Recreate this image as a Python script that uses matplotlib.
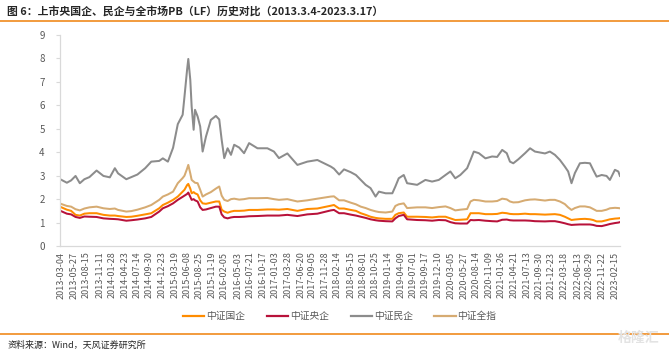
import pandas as pd
import matplotlib
matplotlib.use("Agg")
import matplotlib.pyplot as plt
from matplotlib.lines import Line2D

plt.rcParams['font.family'] = ['Noto Sans CJK SC', 'DejaVu Sans']

# values
dates = [
    "2013-03-04", "2013-04-08", "2013-05-06", "2013-06-04", "2013-07-02", "2013-08-01", "2013-09-03", "2013-10-20", "2013-12-04", "2014-01-15",
    "2014-02-17", "2014-03-10", "2014-05-03", "2014-06-05", "2014-07-15", "2014-09-04", "2014-10-14", "2014-12-05", "2014-12-29", "2015-01-31",
    "2015-03-06", "2015-04-06", "2015-05-08", "2015-05-20", "2015-06-06", "2015-06-14", "2015-06-27", "2015-07-06", "2015-07-19", "2015-07-28",
    "2015-08-14", "2015-08-31", "2015-09-16", "2015-10-08", "2015-11-09", "2015-12-12", "2016-01-03", "2016-01-19", "2016-02-05", "2016-02-27",
    "2016-03-20", "2016-04-10", "2016-05-13", "2016-06-14", "2016-07-17", "2016-09-10", "2016-11-14", "2016-12-27", "2017-01-29", "2017-03-25",
    "2017-05-30", "2017-08-03", "2017-10-08", "2018-01-04", "2018-01-25", "2018-02-28", "2018-04-01", "2018-05-15", "2018-06-18", "2018-07-20",
    "2018-08-21", "2018-09-22", "2018-10-25", "2018-11-16", "2018-12-30", "2019-02-12", "2019-03-04", "2019-03-26", "2019-04-28", "2019-05-20",
    "2019-07-25", "2019-09-17", "2019-10-31", "2019-12-14", "2020-01-27", "2020-02-28", "2020-03-31", "2020-05-03", "2020-06-17", "2020-07-09",
    "2020-07-31", "2020-09-02", "2020-10-15", "2020-11-28", "2020-12-31", "2021-02-02", "2021-03-04", "2021-03-25", "2021-04-16", "2021-05-19",
    "2021-07-02", "2021-08-04", "2021-09-05", "2021-11-10", "2021-12-12", "2022-01-14", "2022-02-16", "2022-03-20", "2022-04-11", "2022-05-03",
    "2022-05-25", "2022-06-27", "2022-07-30", "2022-09-01", "2022-09-22", "2022-10-15", "2022-11-17", "2022-12-19", "2023-01-10", "2023-02-12",
    "2023-03-06", "2023-03-17",
]

min_qi = [  # 中证民企
    2.82, 2.70, 2.80, 2.99, 2.68, 2.85, 2.94, 3.22, 2.99, 2.93,
    3.32, 3.10, 2.85, 2.94, 3.05, 3.32, 3.60, 3.63, 3.74, 3.60,
    4.19, 5.20, 5.60, 6.38, 7.52, 7.98, 7.09, 5.95, 4.96, 5.81,
    5.53, 5.10, 4.03, 4.67, 5.38, 5.55, 5.40, 4.53, 3.75, 4.17,
    3.89, 4.32, 4.20, 3.96, 4.39, 4.17, 4.17, 4.03, 3.75, 3.95,
    3.46, 3.60, 3.67, 3.39, 3.30, 3.05, 3.27, 3.15, 3.03, 2.82,
    2.61, 2.47, 2.11, 2.32, 2.25, 2.25, 2.54, 2.89, 3.03, 2.68,
    2.61, 2.82, 2.75, 2.82, 3.03, 3.18, 2.89, 3.03, 3.32, 3.67,
    4.03, 3.96, 3.74, 3.82, 3.80, 4.10, 3.96, 3.60, 3.53, 3.70,
    3.96, 4.17, 4.03, 3.95, 4.03, 3.89, 3.67, 3.39, 3.18, 2.68,
    3.11, 3.53, 3.55, 3.53, 3.25, 2.96, 3.03, 2.99, 2.82, 3.25,
    3.18, 2.99,
]

quan_zhi = [  # 中证全指
    1.79, 1.71, 1.68, 1.57, 1.52, 1.60, 1.65, 1.68, 1.61, 1.58,
    1.60, 1.54, 1.47, 1.49, 1.55, 1.65, 1.75, 1.97, 2.11, 2.20,
    2.32, 2.68, 2.90, 3.00, 3.30, 3.46, 3.10, 2.82, 2.75, 2.70,
    2.68, 2.40, 2.11, 2.20, 2.30, 2.45, 2.54, 2.15, 1.97, 1.92,
    2.00, 2.02, 1.98, 2.00, 2.04, 2.04, 2.05, 2.00, 1.97, 2.00,
    1.90, 1.95, 2.02, 2.11, 2.12, 1.95, 1.95, 1.85, 1.78, 1.68,
    1.62, 1.54, 1.48, 1.45, 1.43, 1.47, 1.71, 1.78, 1.82, 1.62,
    1.65, 1.65, 1.62, 1.66, 1.69, 1.62, 1.52, 1.55, 1.58, 1.90,
    1.97, 1.95, 1.90, 1.90, 1.92, 2.02, 1.99, 1.90, 1.86, 1.87,
    1.95, 1.98, 1.99, 1.94, 1.97, 1.97, 1.90, 1.79, 1.65, 1.54,
    1.62, 1.69, 1.69, 1.65, 1.58, 1.50, 1.50, 1.55, 1.61, 1.63,
    1.62, 1.61,
]

guo_qi = [  # 中证国企
    1.65, 1.55, 1.50, 1.33, 1.30, 1.38, 1.40, 1.40, 1.33, 1.30,
    1.30, 1.28, 1.24, 1.25, 1.29, 1.35, 1.40, 1.61, 1.75, 1.85,
    1.97, 2.11, 2.32, 2.40, 2.60, 2.65, 2.45, 2.25, 2.30, 2.25,
    2.20, 1.95, 1.82, 1.80, 1.85, 1.90, 1.90, 1.55, 1.47, 1.42,
    1.47, 1.50, 1.50, 1.51, 1.54, 1.54, 1.56, 1.56, 1.55, 1.58,
    1.50, 1.58, 1.60, 1.72, 1.75, 1.60, 1.60, 1.54, 1.50, 1.40,
    1.33, 1.25, 1.20, 1.18, 1.16, 1.16, 1.33, 1.40, 1.43, 1.25,
    1.25, 1.24, 1.22, 1.25, 1.25, 1.18, 1.11, 1.12, 1.14, 1.40,
    1.40, 1.40, 1.36, 1.36, 1.37, 1.42, 1.40, 1.37, 1.36, 1.36,
    1.38, 1.36, 1.36, 1.34, 1.35, 1.36, 1.33, 1.25, 1.18, 1.11,
    1.13, 1.15, 1.16, 1.14, 1.11, 1.05, 1.05, 1.10, 1.14, 1.17,
    1.18, 1.19,
]

yang_qi = [  # 中证央企
    1.48, 1.38, 1.35, 1.24, 1.20, 1.26, 1.25, 1.24, 1.18, 1.16,
    1.15, 1.14, 1.08, 1.10, 1.13, 1.18, 1.24, 1.47, 1.61, 1.70,
    1.82, 1.97, 2.10, 2.15, 2.22, 2.28, 2.10, 1.97, 2.00, 1.95,
    1.90, 1.65, 1.54, 1.56, 1.62, 1.68, 1.68, 1.35, 1.22, 1.18,
    1.22, 1.24, 1.24, 1.25, 1.27, 1.28, 1.30, 1.30, 1.30, 1.33,
    1.28, 1.35, 1.38, 1.52, 1.54, 1.40, 1.40, 1.34, 1.30, 1.25,
    1.20, 1.14, 1.10, 1.08, 1.06, 1.05, 1.18, 1.28, 1.33, 1.14,
    1.11, 1.10, 1.08, 1.11, 1.10, 1.02, 0.97, 0.96, 0.96, 1.11,
    1.10, 1.11, 1.08, 1.06, 1.05, 1.12, 1.13, 1.10, 1.09, 1.09,
    1.09, 1.08, 1.06, 1.05, 1.06, 1.06, 1.02, 0.97, 0.93, 0.90,
    0.91, 0.92, 0.92, 0.92, 0.90, 0.86, 0.85, 0.90, 0.94, 0.98,
    1.00, 1.02,
]

tick_dates = [
    "2013-03-04", "2013-05-27", "2013-08-15", "2013-11-11", "2014-01-28", "2014-04-23", "2014-07-14", "2014-09-30",
    "2014-12-23", "2015-03-19", "2015-06-08", "2015-08-25", "2015-11-19", "2016-02-05", "2016-05-03", "2016-07-21",
    "2016-10-17", "2017-01-03", "2017-03-28", "2017-06-20", "2017-09-05", "2017-11-28", "2018-02-14", "2018-05-15",
    "2018-08-01", "2018-10-25", "2019-01-14", "2019-04-09", "2019-07-01", "2019-09-17", "2019-12-10", "2020-03-05",
    "2020-05-27", "2020-08-14", "2020-11-09", "2021-01-26", "2021-04-21", "2021-07-13", "2021-09-30", "2021-12-23",
    "2022-03-18", "2022-06-13", "2022-08-29", "2022-11-22", "2023-02-15",
]

x = pd.to_datetime(dates)
ticks = pd.to_datetime(tick_dates)

fig = plt.figure(figsize=(6.69, 3.54), dpi=100)
ax = fig.add_axes([0.0897, 0.305, 0.837, 0.596])

c_guo, c_yang, c_min, c_quan = "#FF8C00", "#B8123A", "#8C8C8C", "#D6AB72"
ax.plot(x, min_qi, color=c_min, lw=1.45)
ax.plot(x, quan_zhi, color=c_quan, lw=1.45)
ax.plot(x, guo_qi, color=c_guo, lw=1.45)
ax.plot(x, yang_qi, color=c_yang, lw=1.45)

ax.set_ylim(0, 9)
ax.set_yticks(range(10))
ax.set_xlim(pd.Timestamp("2013-02-22"), pd.Timestamp("2023-03-17"))
ax.set_xticks(ticks)
ax.set_xticklabels(tick_dates, rotation=90)
ax.tick_params(axis="x", length=0, pad=4, labelsize=6.5, colors="#595959")
ax.tick_params(axis="y", length=3, width=0.8, color="#d9d9d9", labelsize=7, colors="#595959", pad=8)

for s in ["top", "right"]:
    ax.spines[s].set_visible(False)
for s in ["left", "bottom"]:
    ax.spines[s].set_color("#d9d9d9")
    ax.spines[s].set_linewidth(0.9)

handles = [Line2D([], [], color=c, lw=1.6) for c in (c_guo, c_yang, c_min, c_quan)]
fig.legend(handles, ["中证国企", "中证央企", "中证民企", "中证全指"],
           loc="center", bbox_to_anchor=(0.508, 0.107), ncol=4, frameon=False,
           fontsize=7, handlelength=2.2, handletextpad=0.2, columnspacing=2.2,
           labelcolor="#595959")

# header / footer
fig.text(0.011, 0.968, "图 6：上市央国企、民企与全市场PB（LF）历史对比（2013.3.4-2023.3.17）",
         fontsize=7.8, fontweight="bold", color="#262626", va="center", ha="left")
fig.add_artist(Line2D([0, 1], [0.940, 0.940], color="#F08A1C", lw=1.2))
fig.add_artist(Line2D([0, 1], [0.057, 0.057], color="#F08A1C", lw=1.2))
fig.text(0.011, 0.024, "资料来源：Wind，天风证券研究所", fontsize=6.5, color="#262626",
         va="center", ha="left")
fig.text(0.985, 0.045, "格隆汇", fontsize=10, color="#e3e3e3", fontweight="bold",
         va="center", ha="right")

fig.savefig("out.png", dpi=100)
